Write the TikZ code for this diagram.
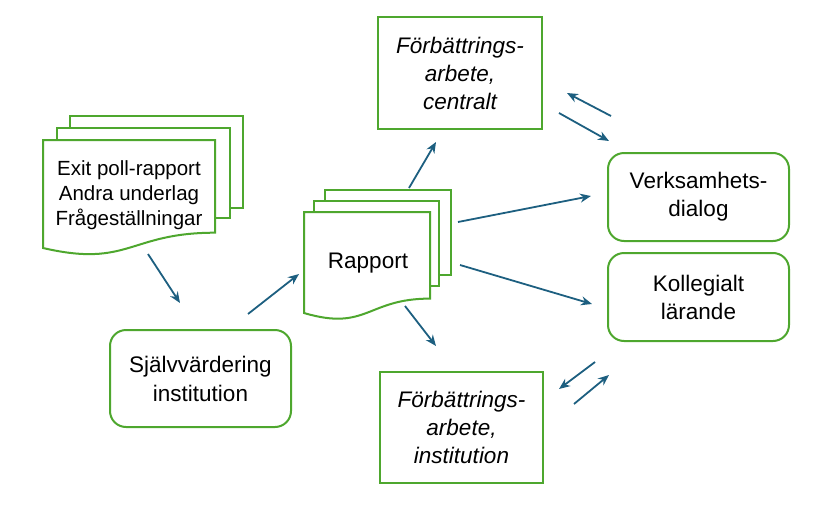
\documentclass[tikz,border=0pt]{standalone}
\usepackage{fontspec}
\setmainfont{Liberation Sans}
\usetikzlibrary{arrows.meta}
\definecolor{gr}{HTML}{4EA72E}
\definecolor{ar}{HTML}{1D5F80}
\begin{document}
\begin{tikzpicture}[x=1pt,y=-1pt,
  box/.style={draw=gr, line width=2pt, fill=white},
  nbox/.style={box, inner sep=0pt, align=center, font=\fontsize{22.5}{28}\selectfont},
  rbox/.style={nbox, rounded corners=16pt},
  conn/.style={draw=ar, line width=1.8pt, -{Stealth[length=11pt,width=9pt]}},
  ]
\useasboundingbox (0,0) rectangle (824,506);

% boxes
\node[nbox, minimum width=164pt, minimum height=112pt, font=\fontsize{22.5}{28}\selectfont\itshape] (fc) at (460,73) {Förbättrings-\\arbete,\\centralt};
\node[nbox, minimum width=163pt, minimum height=111pt, font=\fontsize{22.5}{28}\selectfont\itshape] (fi) at (461.5,427.5) {Förbättrings-\\arbete,\\institution};
\node[rbox, minimum width=181pt, minimum height=97pt, font=\fontsize{22.5}{29}\selectfont] (sj) at (200.5,378.5) {Självvärdering\\institution};
\node[rbox, minimum width=181pt, minimum height=88pt] (vd) at (698.5,197) {Verksamhets-\\dialog};
\node[rbox, minimum width=181pt, minimum height=88pt] (kl) at (698.5,297) {Kollegialt\\lärande};

% left multi-document
\draw[box] (70,116) rectangle (243,208);
\draw[box] (57,128) rectangle (230,218);
\draw[box] (43,140) -- (215,140) -- (215,232.7) .. controls (129,232.7) and (129,268) .. (43,248) -- cycle;
\node[align=center, inner sep=0pt, font=\fontsize{20.5}{25}\selectfont] (ld) at (129,195) {Exit poll-rapport\\Andra underlag\\Frågeställningar};

% Rapport multi-document
\draw[box] (325,190) rectangle (451,275);
\draw[box] (314,201) rectangle (439,286);
\draw[box] (304,212) -- (430,212) -- (430,298.6) .. controls (367,298.6) and (367,331.6) .. (304,313) -- cycle;
\node[inner sep=0pt, font=\fontsize{22.5}{28}\selectfont] (rp) at (368,263) {Rapport};

% arrow end points
\coordinate (a1s) at (148,254); \coordinate (a1e) at (180,303);
\coordinate (a2s) at (248,314); \coordinate (a2e) at (299,274);
\coordinate (a3s) at (409,188); \coordinate (a3e) at (436,142);
\coordinate (a4s) at (458,222); \coordinate (a4e) at (591,196);
\coordinate (a5s) at (460,265); \coordinate (a5e) at (592,304);
\coordinate (a6s) at (405,306); \coordinate (a6e) at (436,346);
\coordinate (a7s) at (611,116); \coordinate (a7e) at (567,93);
\coordinate (a8s) at (559,113); \coordinate (a8e) at (609,141);
\coordinate (a9s) at (595,362); \coordinate (a9e) at (559,389);
\coordinate (a10s) at (574,404); \coordinate (a10e) at (609,375);

\foreach \i in {1,...,10} \draw[conn] (a\i s) -- (a\i e);
\end{tikzpicture}
\end{document}
